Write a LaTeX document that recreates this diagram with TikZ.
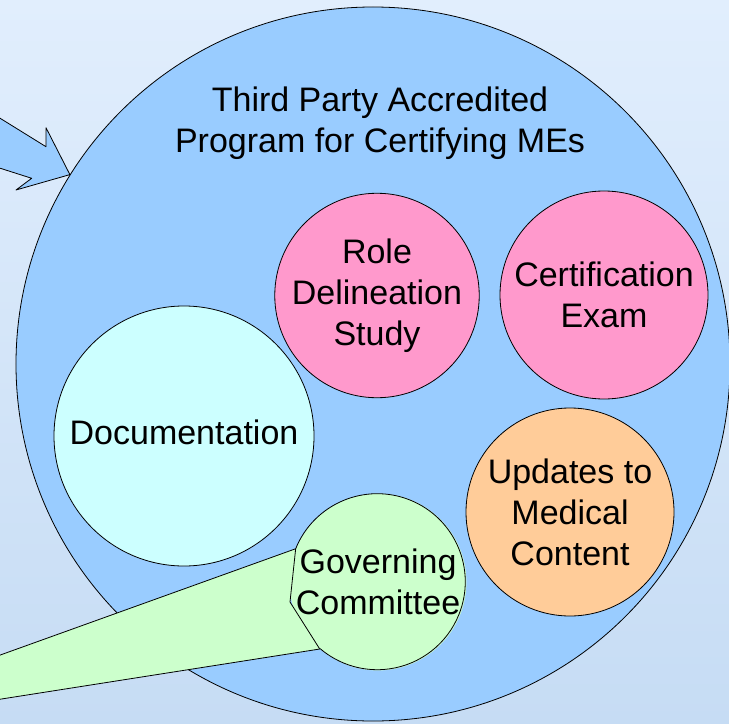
\documentclass[tikz,border=0pt]{standalone}
\usepackage{fontspec}
\setmainfont{Liberation Sans}
\usepackage{xcolor}
\usepackage{tikz}
\usetikzlibrary{calc}
\definecolor{outerblue}{HTML}{99CCFF}
\definecolor{rolepink}{HTML}{FF99CC}
\definecolor{doccyan}{HTML}{CCFFFF}
\definecolor{updorange}{HTML}{FFCC99}
\definecolor{govgreen}{HTML}{CCFFCC}
\definecolor{bgtop}{HTML}{E1EEFD}
\definecolor{bgbottom}{HTML}{C6DCF4}
\tikzstyle{outline} = [draw=black, line width=0.8bp, line join=round]

\begin{document}
\begin{tikzpicture}[
    x=1bp, y=-1bp,
    bigtext/.style={font=\fontsize{34bp}{41bp}\selectfont, align=center},
    bubble/.style={circle, outline, inner sep=0pt, bigtext},
  ]
  \useasboundingbox (0,0) rectangle (729,724);
  \shade[top color=bgtop, bottom color=bgbottom] (0,0) rectangle (729,724);
  \begin{scope}
  \clip (0,0) rectangle (729,724);
  % outer program circle and the arrow into it
  \node[bubble, fill=outerblue, minimum size=714bp] (program) at (373,364) {};
  \node[bigtext] (title) at (380,123) {Third Party Accredited\\Program for Certifying MEs};
  \coordinate (arrowtip) at (program.148.5);
  \draw[outline, fill=outerblue] (-10,112) -- (46,146.7) -- (46,127.7) -- (arrowtip)
    -- (16,190) -- (31.7,178.3) -- (-10,165) -- cycle;
  % parts of the program
  \node[bubble, fill=rolepink, minimum size=194bp] (role) at (377,295.5) {Role\\Delineation\\Study};
  \node[bubble, fill=rolepink, minimum size=208bp] (exam) at (604,295) {Certification\\Exam};
  \node[bubble, fill=doccyan, minimum size=260bp, text depth=8bp] (doc) at (184,436) {Documentation};
  \node[bubble, fill=updorange, minimum size=208bp] (updates) at (570,512) {Updates to\\Medical\\Content};
  % governing committee with its callout tail
  \node[bubble, draw=none, fill=govgreen, minimum size=176bp] (gov) at (378,582) {Governing\\Committee};
  \draw[outline, fill=govgreen] (-10,658.7) -- (gov.158) -- (290,602) -- (gov.229.5)
    -- (-10,700.8) -- cycle;
  \draw[outline] (gov.158) arc[start angle=158, end angle=-130.5, radius=88bp];
  \end{scope}
\end{tikzpicture}
\end{document}
